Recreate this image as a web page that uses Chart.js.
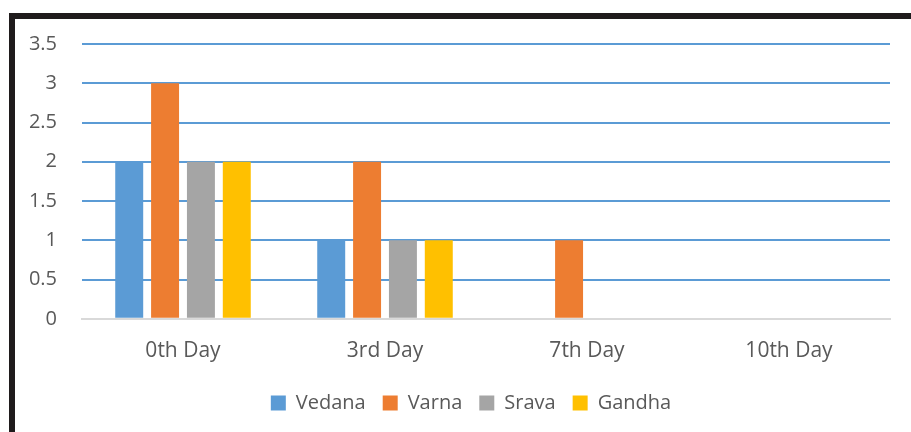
<!DOCTYPE html>
<html>
<head>
<meta charset="utf-8">
<script src="https://cdn.jsdelivr.net/npm/chart.js@4"></script>
<style>
  html, body { margin: 0; padding: 0; background: #fff; }
  .frame {
    position: absolute; left: 9px; top: 13px;
    width: 896px; height: 413px;
    border-top: 6px solid #1f1b1c; border-left: 6px solid #1f1b1c;
  }
  #chart { position: absolute; left: 15px; top: 7px; display: block; }
</style>
</head>
<body>
<div class="frame"></div>
<canvas id="chart" width="896" height="425"></canvas>
<script>
const days = ['0th Day', '3rd Day', '7th Day', '10th Day'];
const vedana = [2, 1, 0, 0];
const varna = [3, 2, 1, 0];
const srava = [2, 1, 0, 0];
const gandha = [2, 1, 0, 0];
const yTicks = [0, 0.5, 1, 1.5, 2, 2.5, 3, 3.5];

const font = { family: 'Open Sans', size: 20 };

// y labels sit left of the padded area, so widen the scale's label clip
const yLabelRoom = {
  id: 'yLabelRoom',
  afterLayout: c => { c.scales.y.left = 0; }
};

new Chart(document.getElementById('chart'), {
  type: 'bar',
  data: {
    labels: days,
    datasets: [
      { label: 'Vedana', data: vedana, backgroundColor: '#5b9bd5' },
      { label: 'Varna', data: varna, backgroundColor: '#ed7d31' },
      { label: 'Srava', data: srava, backgroundColor: '#a5a5a5' },
      { label: 'Gandha', data: gandha, backgroundColor: '#ffc000' }
    ]
  },
  plugins: [yLabelRoom],
  options: {
    responsive: false,
    animation: false,
    datasets: { bar: { categoryPercentage: 0.71, barPercentage: 0.78 } },
    layout: { padding: { left: 37, right: 21, top: 0, bottom: 9 } },
    scales: {
      x: {
        grid: { display: false },
        border: { display: true, color: '#d9d9d9', width: 2 },
        ticks: { font: { family: 'Open Sans', size: 21 }, color: '#595959', padding: 12 }
      },
      y: {
        min: 0, max: 3.5,
        afterBuildTicks: axis => { axis.ticks = yTicks.map(v => ({ value: v })); },
        afterFit: axis => { axis.width = 30; },
        border: { display: false },
        grid: {
          drawTicks: false,
          lineWidth: 2,
          color: ctx => ctx.tick && ctx.tick.value === 0 ? '#d9d9d9' : '#5b9bd5'
        },
        ticks: { font: font, color: '#595959', padding: 25, callback: v => String(v) }
      }
    },
    plugins: {
      legend: {
        position: 'bottom',
        labels: { font: font, color: '#595959', boxWidth: 15, boxHeight: 15, padding: 17 }
      },
      tooltip: { enabled: false }
    }
  }
});
</script>
</body>
</html>
